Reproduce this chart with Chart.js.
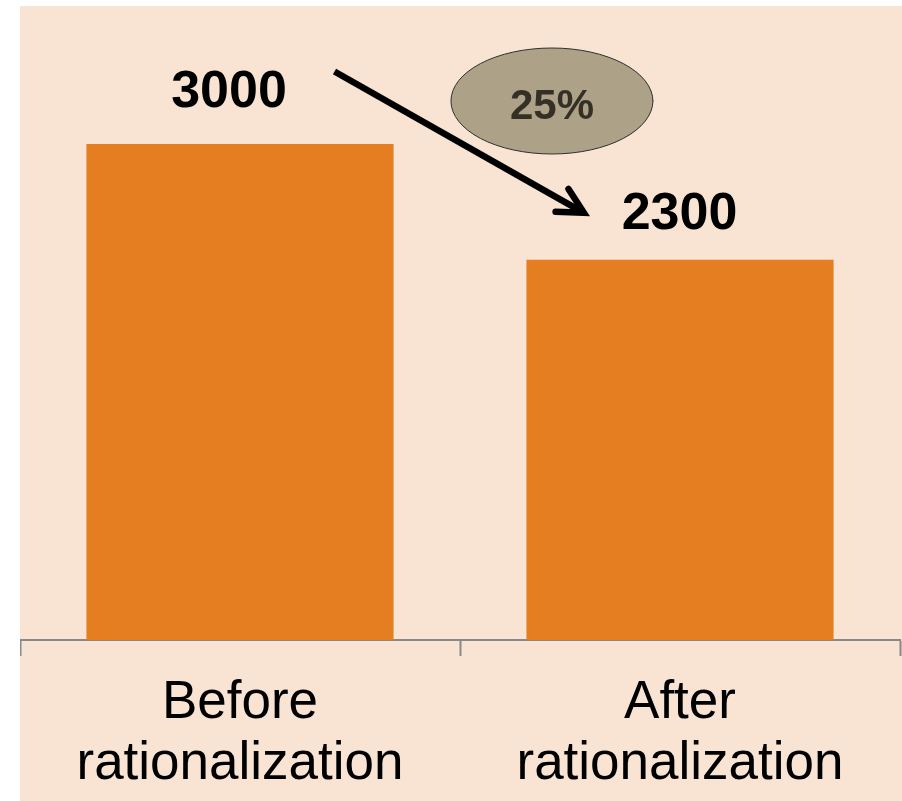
<!DOCTYPE html>
<html>
<head>
<meta charset="utf-8">
<script src="https://cdn.jsdelivr.net/npm/chart.js@4"></script>
<style>
  html, body { margin: 0; padding: 0; background: #ffffff; }
  #wrap { position: absolute; left: 20px; top: 6px; width: 882px; height: 795px; background: #F9E4D3; }
  canvas { display: block; }
</style>
</head>
<body>
<div id="wrap"><canvas id="c" width="882" height="795"></canvas></div>
<script>
// ---- data ----
const categories = [["Before", "rationalization"], ["After", "rationalization"]];
const values = [3000, 2300];
const changeLabel = "25%";

const FONT = "'Liberation Sans', Arial, Helvetica, sans-serif";

const annotationPlugin = {
  id: 'annotations',
  afterDatasetsDraw(chart, args, opts) {
    const ctx = chart.ctx;
    const meta = chart.getDatasetMeta(0);
    const bars = meta.data;
    const area = chart.chartArea;
    ctx.save();
    // value labels above bars
    ctx.font = 'bold 52px ' + FONT;
    ctx.fillStyle = '#000000';
    ctx.textAlign = 'center';
    ctx.textBaseline = 'alphabetic';
    bars.forEach((bar, i) => {
      const off = opts.labelOffsets[i];
      ctx.fillText(String(values[i]), bar.x + off[0], bar.y - off[1]);
    });

    // arrow from first label region to second
    const b0 = bars[0], b1 = bars[1];
    const sx = b0.x + 94.5, sy = b0.y - 72.5;
    const tx = b1.x - 93.5, ty = b1.y - 45.5;
    const ang = Math.atan2(ty - sy, tx - sx);
    ctx.strokeStyle = '#000000';
    ctx.lineWidth = 6.5;
    ctx.lineCap = 'butt';
    ctx.beginPath();
    ctx.moveTo(sx, sy);
    ctx.lineTo(tx - 6 * Math.cos(ang), ty - 6 * Math.sin(ang));
    ctx.stroke();
    const headLen = 31, spread = 25 * Math.PI / 180;
    const back = ang + Math.PI;
    ctx.lineCap = 'round';
    ctx.lineJoin = 'miter';
    ctx.beginPath();
    ctx.moveTo(tx + headLen * Math.cos(back - spread), ty + headLen * Math.sin(back - spread));
    ctx.lineTo(tx - 3 * Math.cos(ang), ty - 3 * Math.sin(ang));
    ctx.lineTo(tx + headLen * Math.cos(back + spread), ty + headLen * Math.sin(back + spread));
    ctx.stroke();

    // ellipse with percentage
    const ex = area.left + (area.right - area.left) * 0.6045;
    const ey = area.top + 95;
    ctx.beginPath();
    ctx.ellipse(ex, ey, 101, 53, 0, 0, Math.PI * 2);
    ctx.fillStyle = '#ADA287';
    ctx.fill();
    ctx.lineWidth = 1;
    ctx.strokeStyle = '#2f2f2f';
    ctx.stroke();
    ctx.fillStyle = '#343025';
    ctx.font = 'bold 42px ' + FONT;
    ctx.textAlign = 'center';
    ctx.textBaseline = 'alphabetic';
    ctx.fillText(changeLabel, ex, ey + 18);
    ctx.restore();
  }
};

new Chart(document.getElementById('c'), {
  type: 'bar',
  data: {
    labels: categories,
    datasets: [{
      data: values,
      backgroundColor: '#E57E20',
      borderWidth: 0,
      barPercentage: 1,
      categoryPercentage: 0.698
    }]
  },
  options: {
    responsive: false,
    animation: false,
    devicePixelRatio: 1,
    layout: { padding: { left: 0, right: 2, top: 0, bottom: 0 } },
    plugins: {
      legend: { display: false },
      tooltip: { enabled: false },
      annotations: { labelOffsets: [[-11, 37], [-0.5, 31]] }
    },
    scales: {
      x: {
        grid: {
          drawOnChartArea: false,
          drawTicks: true,
          tickLength: 16,
          tickWidth: 2,
          tickColor: '#898989',
          offset: true
        },
        border: { display: true, color: '#898989', width: 2 },
        ticks: {
          color: '#000000',
          font: { family: FONT, size: 53, lineHeight: 1.151 },
          padding: 17,
          maxRotation: 0,
          autoSkip: false
        },
        afterFit(scale) { scale.height = 161; }
      },
      y: {
        display: false,
        min: 0,
        max: 3835
      }
    }
  },
  plugins: [annotationPlugin]
});
</script>
</body>
</html>
